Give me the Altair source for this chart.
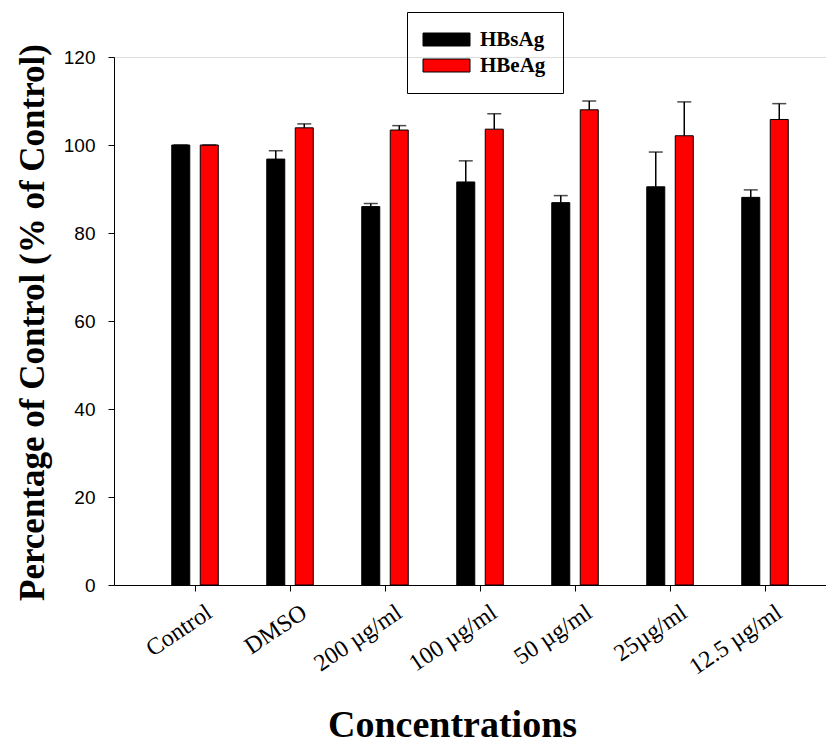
import altair as alt
import pandas as pd

categories = ["Control", "DMSO", "200 µg/ml", "100 µg/ml", "50 µg/ml", "25µg/ml", "12.5 µg/ml"]
series = ["HBsAg", "HBeAg"]
hbsag = [100.0, 96.8, 86.0, 91.6, 86.9, 90.5, 88.1]
hbsag_err = [0.0, 1.9, 0.7, 4.8, 1.6, 7.9, 1.7]
hbeag = [100.0, 103.9, 103.4, 103.6, 108.0, 102.1, 105.8]
hbeag_err = [0.0, 0.9, 1.0, 3.5, 2.0, 7.7, 3.6]

rows = []
for i, c in enumerate(categories):
    rows.append({"cat": c, "series": "HBsAg", "value": hbsag[i], "top": hbsag[i] + hbsag_err[i]})
    rows.append({"cat": c, "series": "HBeAg", "value": hbeag[i], "top": hbeag[i] + hbeag_err[i]})
df = pd.DataFrame(rows)

x_enc = alt.X("cat:N", sort=categories,
              scale=alt.Scale(paddingInner=0, paddingOuter=0.2474, align=0.713),
              axis=alt.Axis(title="Concentrations", labelAngle=-34, labelAlign="right",
                            labelBaseline="top", labelFont="Liberation Serif", labelFontSize=24,
                            labelColor="black", labelPadding=9, labelOffset=8,
                            tickSize=6, tickColor="black", domainColor="black",
                            titleFont="Liberation Serif", titleFontSize=38, titleFontWeight="bold",
                            titleColor="black", titleX=338, titleY=151,
                            titleBaseline="alphabetic", titleAlign="center"))
xoff = alt.XOffset("series:N", sort=series,
                   scale=alt.Scale(paddingInner=0.368, paddingOuter=0.851))
y_scale = alt.Scale(domain=[0, 120])
y_axis = alt.Axis(title="Percentage of Control (% of Control)", values=[0, 20, 40, 60, 80, 100, 120],
                  grid=False, labelFont="Liberation Sans", labelFontSize=19, labelColor="black",
                  labelPadding=13, tickSize=6, tickColor="black", domainColor="black",
                  titleFont="Liberation Serif", titleFontSize=35, titleFontWeight="bold",
                  titleColor="black", titleAngle=-90, titleX=-71, titleY=265,
                  titleBaseline="alphabetic", titleAlign="center")

color = alt.Color("series:N", sort=series,
                  scale=alt.Scale(domain=series, range=["#000000", "#ff0000"]),
                  legend=alt.Legend(title=None, orient="none", legendX=293, legendY=-45,
                                    strokeColor="black", padding=17, rowPadding=4,
                                    symbolType="M-2.35,-0.65H2.35V0.65H-2.35Z", symbolSize=400,
                                    symbolStrokeColor="black", symbolStrokeWidth=1,
                                    symbolOpacity=1, symbolOffset=12, labelOffset=23,
                                    labelFont="Liberation Serif", labelFontSize=21,
                                    labelFontWeight="bold", labelColor="black"))

base = alt.Chart(df)
bars = base.mark_bar(stroke="black", strokeWidth=1, opacity=1).encode(
    x=x_enc, xOffset=xoff, y=alt.Y("value:Q", scale=y_scale, axis=y_axis), color=color)
rules = base.mark_rule(color="black", strokeWidth=1.5).encode(
    x=alt.X("cat:N", sort=categories), xOffset=xoff, y="value:Q", y2="top:Q")
caps = base.mark_tick(color="black", thickness=1.5, size=14, orient="horizontal").encode(
    x=alt.X("cat:N", sort=categories), xOffset=xoff, y="top:Q")

chart = alt.layer(bars, rules, caps).properties(
    width=712, height=528,
    autosize=alt.AutoSizeParams(type="none"),
    padding={"left": 106, "top": 49, "right": 0, "bottom": 159},
).configure_view(stroke=None).configure(background="white")

chart.save("out.html", embed_options={"renderer": "svg", "actions": False})
